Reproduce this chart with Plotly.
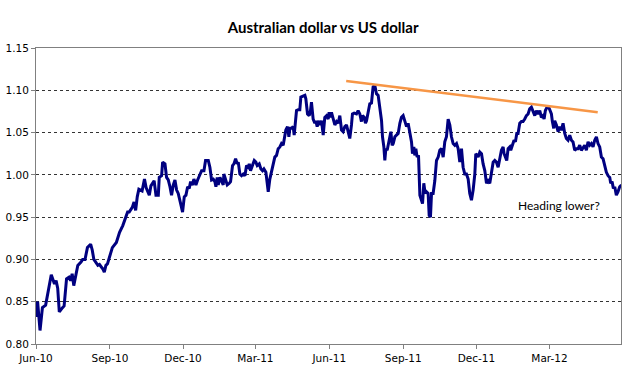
import pandas as pd
import plotly.graph_objects as go

start_date = "2010-06-01"

# days since start date
day_offsets = [
    0, 2, 5, 8, 12, 15, 19, 23, 25, 27, 29, 33, 35, 38, 41, 43, 45, 47, 49, 52,
    56, 58, 61, 64, 68, 70, 72, 75, 77, 79, 83, 85, 87, 89, 91, 95, 100, 102, 104, 108,
    112, 114, 116, 120, 122, 124, 126, 128, 132, 135, 137, 141, 143, 145, 147,
    149.3, 152.2, 153.4, 156.3, 157.6, 160.5, 162.5, 164.6, 166.7, 168.7, 170.8, 172.9, 175.0, 177.0,
    180.0, 182.4, 184.5, 186.6, 188.7, 190.7, 192.4, 194.5, 196.5, 199.0, 201.1, 204.0, 206.1, 209.0,
    211.0, 214.4, 216.4, 218.5, 220.6, 222.6, 223.9, 225.5, 226.8, 228.9, 231.0, 233.0, 233.8, 236.3,
    238.0, 240.5, 242.1, 244.6, 246.3, 248.4, 250.4, 251.7, 253.7, 255.8, 257.9, 260.0, 262.0, 264.1,
    265.4, 267.0, 269.5, 271.6, 273.6, 275.3, 277.8, 279.9, 281.9, 283.6, 286.1, 287.7, 289.0,
    291.0, 293.1, 295.2, 297.2, 299.3, 301.4, 303.5, 305.5, 307.6, 308.8, 310.9, 313.0, 314.7, 315.9,
    318.0, 320.0, 321.3, 323.0, 324.2, 326.3, 328.3, 329.6, 332.5, 334.6, 335.8, 337.9, 340.0, 341.6,
    342.8, 344.9, 347.0, 348.2, 349.9, 352.0, 353.2, 355.3, 357.4, 359.4, 361.5, 363.6, 364.8, 366.5,
    367.7, 369.8, 371.9, 374.0, 376.0, 378.1, 380.2, 382.2, 384.3, 386.4, 388.5, 390.5, 392.6, 393.8,
    395.9, 398.8, 400.9, 403.0, 405.0, 406.3, 408.4, 410.0, 411.3, 413.3, 415.4, 417.5, 419.5, 421.6,
    423.7, 425.8,
    430.0, 431.2, 432.9, 434.1, 435.4, 437.0, 438.3, 440.3, 441.6, 443.2, 444.5, 446.6, 448.6, 450.7,
    452.8, 454.8, 456.9, 459.0, 461.1, 463.1, 465.2, 467.3, 468.5, 470.2, 471.4, 472.7, 474.3, 476.0,
    477.7, 479.7, 481.0, 482.6, 484.3, 485.9, 488.0, 489.3, 490.9, 492.2, 494.2, 496.3, 498.4, 500.5,
    502.5, 504.6, 506.7, 508.7, 510.8, 512.9, 515.0, 517.0, 519.1, 521.2, 523.3, 525.3, 527.4, 529.5,
    531.5, 533.6, 535.7, 537.8, 539.8, 541.9, 544.0, 546.1, 547.3, 549.0, 550.2, 552.3, 554.4, 556.4,
    558.5, 560.6, 562.6, 564.7, 566.8, 568.9, 570.9, 573.0, 575.1,
    577.1, 579.2, 581.3, 582.5, 584.2, 585.8, 587.5, 589.6, 590.8, 592.5, 594.9, 596.6, 598.3, 599.9,
    602.0, 604.1, 606.1, 608.2, 610.3, 612.4, 614.4, 616.5, 618.6, 620.7, 622.7, 624.8, 626.9, 628.9,
    631.0, 632.3, 633.9, 636.0, 638.1, 639.3, 641.4, 642.6, 644.3, 645.5, 647.6, 649.7, 651.7, 653.8,
    655.9, 658.0, 660.0, 662.1, 664.2, 666.3, 668.3, 670.4, 672.5, 674.6, 676.6, 678.7, 680.8, 682.8,
    684.9, 687.0, 689.1, 691.1, 693.2, 695.3, 697.4, 699.4, 701.5, 703.6, 705.7, 707.7, 709.8, 711.9,
    714.0, 715.2, 716.9, 718.5, 720.2, 722.2, 724.3, 726.4, 728.5,
]

aud_usd = [
    0.832, 0.850, 0.816, 0.843, 0.846, 0.862, 0.882, 0.871, 0.875, 0.866, 0.838, 0.843, 0.845, 0.877, 0.879, 0.875, 0.883, 0.869, 0.879, 0.893,
    0.897, 0.900, 0.900, 0.914, 0.918, 0.911, 0.900, 0.896, 0.893, 0.894, 0.889, 0.885, 0.893, 0.895, 0.902, 0.914, 0.920, 0.926, 0.932, 0.940,
    0.950, 0.956, 0.956, 0.962, 0.968, 0.958, 0.974, 0.983, 0.981, 0.995, 0.985, 0.976, 0.987, 0.991, 0.993,
    0.976, 0.976, 0.997, 0.999, 1.015, 1.013, 0.997, 0.994, 0.986, 0.976, 0.988, 0.994, 0.982, 0.978,
    0.966, 0.956, 0.974, 0.976, 0.986, 0.984, 0.992, 0.988, 0.995, 0.988, 0.994, 1.001, 1.005, 1.005,
    1.017, 1.017, 1.009, 0.994, 0.995, 0.992, 0.986, 0.997, 0.988, 0.997, 0.992, 0.988, 1.001, 0.994,
    0.988, 0.990, 0.992, 1.011, 1.013, 1.019, 1.013, 1.015, 1.001, 0.999, 1.001, 0.999, 1.011, 1.009,
    1.013, 1.005, 1.013, 1.017, 1.015, 1.011, 1.013, 1.007, 1.005, 1.007, 1.003, 0.990, 0.980,
    0.995, 1.005, 1.011, 1.021, 1.023, 1.031, 1.033, 1.037, 1.035, 1.043, 1.053, 1.057, 1.045, 1.055,
    1.055, 1.057, 1.047, 1.064, 1.076, 1.077, 1.077, 1.092, 1.093, 1.094, 1.090, 1.072, 1.070, 1.076,
    1.086, 1.066, 1.061, 1.064, 1.057, 1.064, 1.059, 1.064, 1.047, 1.068, 1.070, 1.066, 1.074, 1.068,
    1.074, 1.066, 1.059, 1.063, 1.061, 1.070, 1.053, 1.051, 1.057, 1.059, 1.049, 1.043, 1.059, 1.072,
    1.073, 1.072, 1.076, 1.072, 1.063, 1.070, 1.068, 1.061, 1.064, 1.076, 1.084, 1.085, 1.104, 1.106,
    1.096, 1.094,
    1.064, 1.045, 1.033, 1.017, 1.031, 1.029, 1.035, 1.043, 1.051, 1.035, 1.037, 1.045, 1.047, 1.049,
    1.061, 1.068, 1.070, 1.064, 1.057, 1.061, 1.051, 1.039, 1.025, 1.033, 1.023, 1.031, 1.021, 1.023,
    0.976, 0.970, 0.966, 0.990, 0.978, 0.980, 0.978, 0.952, 0.950, 0.978, 0.978, 0.993, 1.017, 1.021,
    1.029, 1.031, 1.021, 1.039, 1.045, 1.066, 1.059, 1.045, 1.037, 1.035, 1.037, 1.031, 1.015, 1.031,
    1.009, 1.001, 1.001, 0.995, 0.978, 0.970, 0.982, 1.001, 1.025, 1.023, 1.021, 1.027, 1.025, 1.013,
    1.005, 0.990, 0.993, 0.990, 1.005, 1.015, 1.017, 1.015, 1.009,
    1.017, 1.029, 1.033, 1.025, 1.021, 1.017, 1.031, 1.033, 1.029, 1.035, 1.041, 1.039, 1.049, 1.049,
    1.061, 1.063, 1.063, 1.066, 1.070, 1.072, 1.078, 1.080, 1.074, 1.070, 1.076, 1.072, 1.076, 1.068,
    1.070, 1.066, 1.076, 1.080, 1.080, 1.076, 1.072, 1.063, 1.055, 1.064, 1.059, 1.051, 1.057, 1.053,
    1.061, 1.049, 1.043, 1.041, 1.047, 1.041, 1.039, 1.029, 1.031, 1.031, 1.035, 1.029, 1.033, 1.035,
    1.029, 1.039, 1.035, 1.037, 1.033, 1.041, 1.045, 1.037, 1.033, 1.021, 1.019, 1.009, 1.003, 0.999,
    0.997, 0.990, 0.992, 0.984, 0.986, 0.976, 0.980, 0.986, 0.988,
]

trend_dates = ["2011-06-22", "2012-04-30"]
trend_values = [1.111, 1.074]

tick_dates = ["2010-06-01", "2010-09-01", "2010-12-01", "2011-03-01",
              "2011-06-01", "2011-09-01", "2011-12-01", "2012-03-01"]
tick_labels = ["Jun-10", "Sep-10", "Dec-10", "Mar-11", "Jun-11", "Sep-11", "Dec-11", "Mar-12"]

y_ticks = [0.80, 0.85, 0.90, 0.95, 1.00, 1.05, 1.10, 1.15]
y_tick_labels = ["0.80", "0.85", "0.90", "0.95", "1.00", "1.05", "1.10", "1.15"]

dates = pd.Timestamp(start_date) + pd.to_timedelta(day_offsets, unit="D")

fig = go.Figure()
fig.add_trace(go.Scatter(x=dates, y=aud_usd, mode="lines",
                         line=dict(color="#000080", width=3), hoverinfo="skip"))
fig.add_trace(go.Scatter(x=pd.to_datetime(trend_dates), y=trend_values, mode="lines",
                         line=dict(color="#F79646", width=2.5), hoverinfo="skip"))

fig.add_annotation(x="2012-03-13", y=0.964, text="Heading lower?", showarrow=False,
                   font=dict(family="Lato", size=12, color="#000000"),
                   xanchor="center", yanchor="middle")

tick_font = dict(family="DejaVu Sans", size=10.5, color="#000000")
fig.update_layout(
    width=625, height=376,
    margin=dict(l=36, r=4, t=48, b=32),
    paper_bgcolor="white", plot_bgcolor="white",
    showlegend=False,
    title=dict(text="<b>Australian dollar vs US dollar</b>", xref="container", x=0.517,
               xanchor="center", y=0.925, yanchor="middle",
               font=dict(family="Lato", size=15, color="#000000")),
    xaxis=dict(type="date", range=["2010-06-01", "2012-05-29"],
               tickvals=pd.to_datetime(tick_dates), ticktext=tick_labels,
               showgrid=False, zeroline=False,
               showline=True, linecolor="#808080", linewidth=1, mirror=True,
               ticks="outside", ticklen=4, tickcolor="#808080",
               tickfont=tick_font),
    yaxis=dict(range=[0.80, 1.15], tickvals=y_ticks, ticktext=y_tick_labels,
               showgrid=True, gridcolor="#333333", gridwidth=1, griddash="dot",
               zeroline=False,
               showline=True, linecolor="#808080", linewidth=1, mirror=True,
               ticks="outside", ticklen=4, tickcolor="#808080",
               tickfont=tick_font),
)

fig.write_html("out.html", config={"displayModeBar": False, "staticPlot": True})

# remove the default page margin so the figure sits at the window origin
with open("out.html", "r", encoding="utf-8") as f:
    html = f.read()
html = html.replace("<body>", '<body style="margin:0;padding:0;overflow:hidden">', 1)
with open("out.html", "w", encoding="utf-8") as f:
    f.write(html)
